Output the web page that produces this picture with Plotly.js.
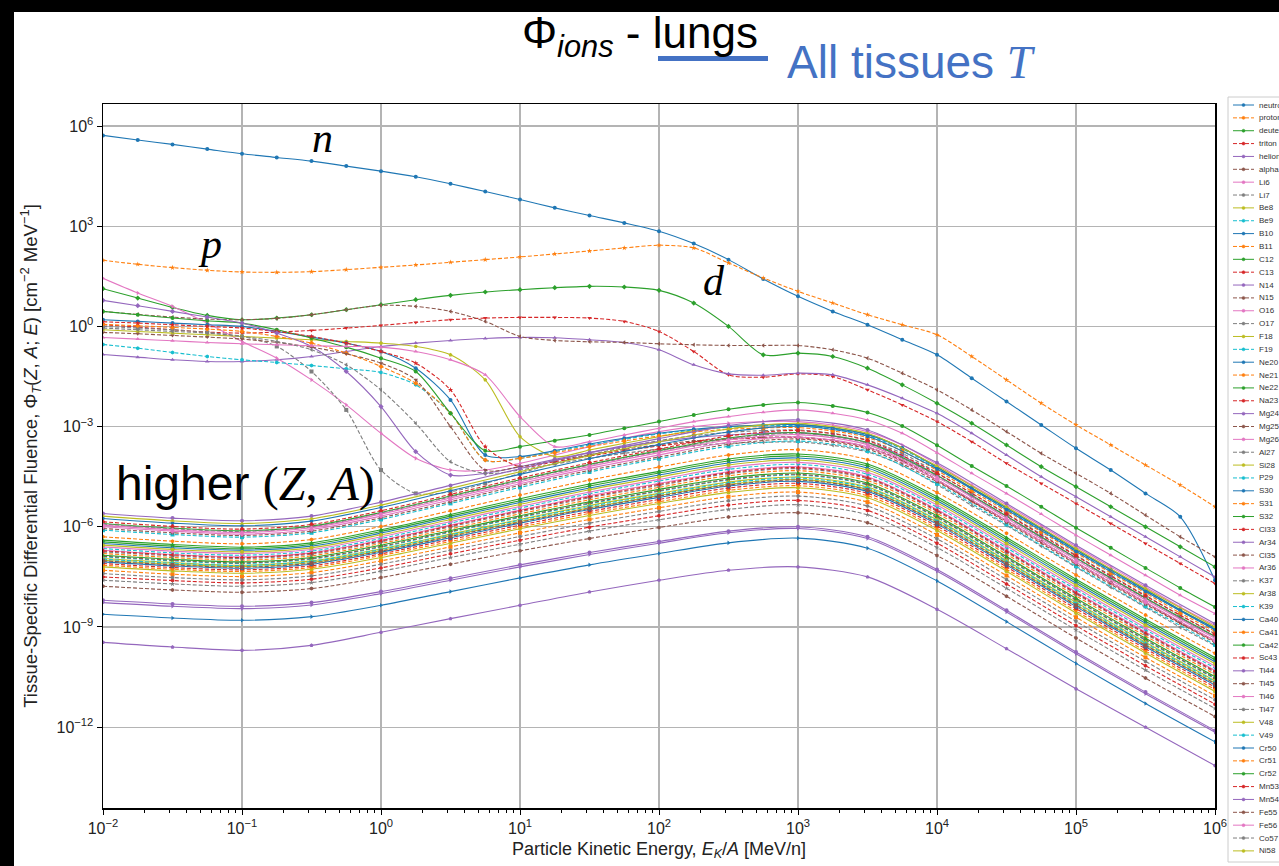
<!DOCTYPE html>
<html><head><meta charset="utf-8">
<script src="https://cdn.plot.ly/plotly-3.0.1.min.js"></script>
<style>
html,body{margin:0;padding:0;background:#000;width:1279px;height:866px;overflow:hidden;}
#chart{position:absolute;left:14px;top:12px;width:1265px;height:854px;background:#fff;}
</style></head><body><div id="chart"></div>
<script>
// ---- energy grids: log10(E_K/A [MeV/n]) ----
const logE_fine = [-2,-1.75,-1.5,-1.25,-1,-0.75,-0.5,-0.25,0,0.25,0.5,0.75,1,1.25,1.5,1.75,2,2.25,2.5,2.75,3,3.25,3.5,3.75,4,4.25,4.5,4.75,5,5.25,5.5,5.75,6];
const logE_coarse = [-2,-1.5,-1,-0.5,0,0.5,1,1.5,2,2.5,3,3.5,4,4.5,5,5.5,6];

// ---- species names (legend order) ----
const SPECIES = ['neutron','proton','deuteron','triton','helion','alpha','Li6','Li7','Be8','Be9','B10','B11','C12','C13','N14','N15','O16','O17','F18','F19','Ne20','Ne21','Ne22','Na23','Mg24','Mg25','Mg26','Al27','Si28','P29','S30','S31','S32','Cl33','Ar34','Cl35','Ar36','K37','Ar38','K39','Ca40','Ca41','Ca42','Sc43','Ti44','Ti45','Ti46','Ti47','V48','V49','Cr50','Cr51','Cr52','Mn53','Mn54','Fe55','Fe56','Co57','Ni58'];

// ---- log10 fluence values, fine grid ----
const phi_neutron  = [5.72,5.58,5.45,5.31,5.17,5.06,4.95,4.8,4.65,4.48,4.27,4.04,3.8,3.55,3.32,3.1,2.85,2.48,2.0,1.42,0.9,0.45,0.05,-0.4,-0.85,-1.55,-2.25,-2.95,-3.65,-4.3,-5.0,-5.7,-7.6];
const phi_proton   = [1.98,1.86,1.76,1.68,1.63,1.62,1.64,1.7,1.77,1.84,1.92,2.0,2.08,2.17,2.26,2.35,2.43,2.35,1.9,1.45,1.05,0.7,0.35,0.05,-0.25,-0.9,-1.6,-2.3,-2.95,-3.55,-4.15,-4.75,-5.4];
const phi_deuteron = [1.13,0.85,0.57,0.33,0.2,0.25,0.35,0.5,0.65,0.8,0.93,1.03,1.1,1.16,1.2,1.18,1.08,0.7,0.0,-0.85,-0.8,-0.9,-1.25,-1.75,-2.3,-2.9,-3.55,-4.2,-4.8,-5.4,-6.0,-6.6,-7.2];
const phi_triton   = [0.05,-0.02,-0.1,-0.17,-0.2,-0.17,-0.12,-0.05,0.03,0.12,0.2,0.25,0.27,0.27,0.25,0.15,-0.15,-0.75,-1.45,-1.52,-1.42,-1.5,-1.9,-2.35,-2.85,-3.45,-4.1,-4.7,-5.3,-5.9,-6.5,-7.1,-7.7];
const phi_helion   = [-0.84,-0.92,-1.0,-1.05,-1.05,-1.0,-0.9,-0.75,-0.6,-0.5,-0.42,-0.36,-0.33,-0.34,-0.4,-0.48,-0.7,-1.15,-1.42,-1.46,-1.4,-1.45,-1.75,-2.15,-2.6,-3.2,-3.85,-4.5,-5.1,-5.7,-6.3,-6.9,-7.5];
const phi_alpha    = [0.45,0.36,0.28,0.22,0.2,0.24,0.35,0.5,0.63,0.6,0.45,0.15,-0.3,-0.42,-0.46,-0.48,-0.52,-0.55,-0.57,-0.57,-0.57,-0.7,-0.95,-1.4,-1.9,-2.5,-3.15,-3.8,-4.4,-5.0,-5.65,-6.3,-6.9];
const phi_Li6      = [1.44,1.0,0.6,0.1,-0.45,-0.95,-1.6,-2.35,-3.2,-3.95,-4.3,-4.3,-4.1,-3.85,-3.6,-3.35,-3.15,-3.0,-2.9,-2.85,-2.85,-2.95,-3.15,-3.55,-4.13,-4.75,-5.35,-5.97,-6.6,-7.2,-7.8,-8.4,-8.95];
const phi_Li7      = [0.0,-0.05,-0.1,-0.18,-0.3,-0.6,-1.35,-2.5,-4.3,-5.0,-4.95,-4.7,-4.4,-4.1,-3.85,-3.62,-3.42,-3.27,-3.17,-3.12,-3.1,-3.2,-3.4,-3.8,-4.38,-5.0,-5.6,-6.22,-6.85,-7.45,-8.05,-8.65,-9.2];
const phi_Be8      = [-0.1,-0.15,-0.2,-0.25,-0.3,-0.35,-0.4,-0.45,-0.5,-0.6,-0.85,-1.6,-3.3,-3.9,-3.7,-3.5,-3.3,-3.12,-3.0,-2.95,-2.93,-3.03,-3.23,-3.63,-4.21,-4.83,-5.43,-6.05,-6.68,-7.28,-7.88,-8.48,-9.03];
const phi_Be9      = [-0.54,-0.65,-0.78,-0.9,-1.0,-1.08,-1.17,-1.27,-1.38,-1.75,-2.6,-4.0,-3.95,-3.75,-3.55,-3.38,-3.22,-3.1,-3.02,-2.98,-2.97,-3.07,-3.27,-3.67,-4.25,-4.87,-5.47,-6.09,-6.72,-7.32,-7.92,-8.52,-9.07];
const phi_B10      = [0.2,0.15,0.1,0.05,0.0,-0.15,-0.32,-0.5,-0.75,-1.25,-2.2,-3.85,-3.9,-3.72,-3.52,-3.35,-3.2,-3.08,-3.0,-2.95,-2.94,-3.04,-3.24,-3.64,-4.22,-4.84,-5.44,-6.06,-6.69,-7.29,-7.89,-8.49,-9.04];
const phi_B11      = [0.06,0.02,-0.03,-0.08,-0.15,-0.3,-0.5,-0.8,-1.2,-1.7,-2.6,-4.0,-3.95,-3.78,-3.6,-3.43,-3.28,-3.16,-3.08,-3.04,-3.03,-3.13,-3.33,-3.73,-4.31,-4.93,-5.53,-6.15,-6.78,-7.38,-7.98,-8.58,-9.13];
const phi_C12      = [0.45,0.35,0.25,0.17,0.1,-0.1,-0.35,-0.62,-0.95,-1.35,-2.6,-3.72,-3.6,-3.42,-3.25,-3.05,-2.85,-2.65,-2.48,-2.35,-2.28,-2.38,-2.58,-2.98,-3.56,-4.18,-4.78,-5.4,-6.03,-6.63,-7.23,-7.83,-8.4];
const phi_C13      = [0.14,0.1,0.05,0.0,-0.05,-0.15,-0.3,-0.5,-0.75,-1.1,-1.9,-3.6,-4.2,-4.05,-3.88,-3.72,-3.58,-3.46,-3.38,-3.34,-3.33,-3.43,-3.63,-4.03,-4.61,-5.23,-5.83,-6.45,-7.08,-7.68,-8.28,-8.88,-9.43];
const phi_N14      = [0.78,0.62,0.45,0.28,0.1,-0.2,-0.6,-1.35,-2.4,-3.75,-4.45,-4.4,-4.2,-3.98,-3.78,-3.6,-3.45,-3.33,-3.25,-3.2,-3.18,-3.28,-3.48,-3.88,-4.46,-5.08,-5.68,-6.3,-6.93,-7.53,-8.13,-8.73,-9.28];
const phi_N15      = [-0.18,-0.22,-0.27,-0.32,-0.38,-0.48,-0.62,-0.82,-1.1,-1.6,-3.0,-4.3,-4.2,-4.02,-3.84,-3.68,-3.54,-3.43,-3.36,-3.32,-3.31,-3.41,-3.61,-4.01,-4.59,-5.21,-5.81,-6.43,-7.06,-7.66,-8.26,-8.86,-9.41];
const phi_O16      = [-0.33,-0.38,-0.43,-0.48,-0.52,-0.55,-0.58,-0.6,-0.62,-0.75,-1.0,-1.45,-2.7,-3.6,-3.45,-3.25,-3.05,-2.85,-2.7,-2.57,-2.5,-2.6,-2.8,-3.2,-3.78,-4.4,-5.0,-5.62,-6.25,-6.85,-7.45,-8.05,-8.6];
const phi_O17      = [-0.05,-0.1,-0.15,-0.2,-0.3,-0.45,-0.7,-1.15,-1.9,-2.9,-4.05,-4.4,-4.3,-4.12,-3.95,-3.8,-3.67,-3.57,-3.5,-3.47,-3.46,-3.56,-3.76,-4.16,-4.74,-5.36,-5.96,-6.58,-7.21,-7.81,-8.41,-9.01,-9.56];

// ---- log10 fluence values, coarse grid ----
const phi_F18  = [-7.0,-7.12,-7.19,-7.07,-6.71,-6.27,-5.84,-5.43,-5.06,-4.73,-4.58,-4.88,-5.86,-7.08,-8.33,-9.53,-10.68];
const phi_F19  = [-6.1,-6.23,-6.31,-6.18,-5.78,-5.3,-4.82,-4.36,-3.96,-3.59,-3.43,-3.73,-4.71,-5.93,-7.18,-8.38,-9.53];
const phi_Ne20 = [-5.75,-5.89,-5.97,-5.83,-5.42,-4.92,-4.43,-3.96,-3.54,-3.16,-2.99,-3.29,-4.27,-5.49,-6.74,-7.94,-9.09];
const phi_Ne21 = [-6.3,-6.43,-6.51,-6.38,-5.99,-5.52,-5.05,-4.6,-4.21,-3.85,-3.69,-3.99,-4.97,-6.19,-7.44,-8.64,-9.79];
const phi_Ne22 = [-5.9,-6.04,-6.12,-5.98,-5.57,-5.08,-4.59,-4.13,-3.72,-3.34,-3.18,-3.48,-4.46,-5.68,-6.93,-8.13,-9.28];
const phi_Na23 = [-5.85,-5.99,-6.07,-5.93,-5.52,-5.03,-4.54,-4.08,-3.67,-3.28,-3.12,-3.42,-4.4,-5.62,-6.87,-8.07,-9.22];
const phi_Mg24 = [-5.6,-5.74,-5.82,-5.68,-5.26,-4.76,-4.26,-3.78,-3.36,-2.97,-2.8,-3.1,-4.08,-5.3,-6.55,-7.75,-8.9];
const phi_Mg25 = [-6.05,-6.18,-6.26,-6.13,-5.73,-5.25,-4.76,-4.31,-3.91,-3.53,-3.37,-3.67,-4.65,-5.87,-7.12,-8.32,-9.47];
const phi_Mg26 = [-6.0,-6.13,-6.22,-6.08,-5.68,-5.19,-4.71,-4.25,-3.85,-3.47,-3.31,-3.61,-4.59,-5.81,-7.06,-8.26,-9.41];
const phi_Al27 = [-5.92,-6.06,-6.14,-6.0,-5.59,-5.1,-4.61,-4.15,-3.74,-3.36,-3.2,-3.5,-4.48,-5.7,-6.95,-8.15,-9.3];
const phi_Si28 = [-5.68,-5.82,-5.9,-5.76,-5.35,-4.85,-4.35,-3.87,-3.46,-3.07,-2.9,-3.2,-4.18,-5.4,-6.65,-7.85,-9.0];
const phi_P29  = [-6.9,-7.02,-7.1,-6.97,-6.61,-6.16,-5.72,-5.31,-4.94,-4.6,-4.45,-4.75,-5.73,-6.95,-8.2,-9.4,-10.55];
const phi_S30  = [-8.62,-8.73,-8.8,-8.69,-8.35,-7.94,-7.53,-7.14,-6.8,-6.48,-6.34,-6.64,-7.62,-8.84,-10.09,-11.29,-12.44];
const phi_S31  = [-7.3,-7.42,-7.49,-7.37,-7.02,-6.6,-6.18,-5.78,-5.43,-5.1,-4.96,-5.26,-6.24,-7.46,-8.71,-9.91,-11.06];
const phi_S32  = [-6.45,-6.58,-6.66,-6.53,-6.14,-5.68,-5.22,-4.78,-4.39,-4.03,-3.88,-4.18,-5.16,-6.38,-7.63,-8.83,-9.98];
const phi_Cl33 = [-7.5,-7.61,-7.68,-7.57,-7.23,-6.81,-6.4,-6.01,-5.67,-5.35,-5.21,-5.51,-6.49,-7.71,-8.96,-10.16,-11.31];
const phi_Ar34 = [-8.2,-8.31,-8.38,-8.27,-7.94,-7.54,-7.14,-6.77,-6.44,-6.13,-6.0,-6.3,-7.28,-8.5,-9.75,-10.95,-12.1];
const phi_Cl35 = [-6.88,-7.0,-7.08,-6.95,-6.59,-6.14,-5.7,-5.29,-4.92,-4.58,-4.43,-4.73,-5.71,-6.93,-8.18,-9.38,-10.53];
const phi_Ar36 = [-6.7,-6.83,-6.9,-6.78,-6.4,-5.95,-5.5,-5.07,-4.7,-4.35,-4.2,-4.5,-5.48,-6.7,-7.95,-9.15,-10.3];
const phi_K37  = [-7.6,-7.71,-7.78,-7.67,-7.33,-6.92,-6.52,-6.13,-5.79,-5.48,-5.34,-5.64,-6.62,-7.84,-9.09,-10.29,-11.44];
const phi_Ar38 = [-6.95,-7.07,-7.15,-7.02,-6.66,-6.22,-5.78,-5.36,-5.0,-4.66,-4.51,-4.81,-5.79,-7.01,-8.26,-9.46,-10.61];
const phi_K39  = [-6.65,-6.78,-6.85,-6.73,-6.35,-5.89,-5.44,-5.01,-4.63,-4.28,-4.13,-4.43,-5.41,-6.63,-7.88,-9.08,-10.23];
const phi_Ca40 = [-6.5,-6.63,-6.7,-6.58,-6.19,-5.73,-5.27,-4.84,-4.45,-4.09,-3.94,-4.24,-5.22,-6.44,-7.69,-8.89,-10.04];
const phi_Ca41 = [-6.8,-6.92,-7.0,-6.87,-6.5,-6.06,-5.61,-5.19,-4.82,-4.47,-4.32,-4.62,-5.6,-6.82,-8.07,-9.27,-10.42];
const phi_Ca42 = [-6.85,-6.97,-7.05,-6.92,-6.55,-6.11,-5.67,-5.25,-4.88,-4.54,-4.39,-4.69,-5.67,-6.89,-8.14,-9.34,-10.49];
const phi_Sc43 = [-7.1,-7.22,-7.29,-7.17,-6.81,-6.38,-5.95,-5.54,-5.18,-4.84,-4.7,-5.0,-5.98,-7.2,-8.45,-9.65,-10.8];
const phi_Ti44 = [-9.46,-9.6,-9.7,-9.55,-9.16,-8.75,-8.35,-7.95,-7.6,-7.3,-7.2,-7.5,-8.47,-9.65,-10.85,-12.0,-13.15];
const phi_Ti45 = [-7.78,-7.89,-7.96,-7.85,-7.52,-7.12,-6.72,-6.35,-6.02,-5.71,-5.58,-5.88,-6.86,-8.08,-9.33,-10.53,-11.68];
const phi_Ti46 = [-6.6,-6.73,-6.8,-6.68,-6.3,-5.84,-5.39,-4.96,-4.58,-4.22,-4.07,-4.37,-5.35,-6.57,-7.82,-9.02,-10.17];
const phi_Ti47 = [-6.75,-6.87,-6.95,-6.82,-6.45,-6.0,-5.55,-5.13,-4.76,-4.41,-4.26,-4.56,-5.54,-6.76,-8.01,-9.21,-10.36];
const phi_V48  = [-7.2,-7.32,-7.39,-7.27,-6.92,-6.49,-6.06,-5.66,-5.3,-4.97,-4.83,-5.13,-6.11,-7.33,-8.58,-9.78,-10.93];
const phi_V49  = [-6.97,-7.09,-7.16,-7.04,-6.68,-6.24,-5.8,-5.39,-5.03,-4.69,-4.54,-4.84,-5.82,-7.04,-8.29,-9.49,-10.64];
const phi_Cr50 = [-7.05,-7.17,-7.24,-7.12,-6.76,-6.33,-5.89,-5.48,-5.12,-4.78,-4.64,-4.94,-5.92,-7.14,-8.39,-9.59,-10.74];
const phi_Cr51 = [-7.15,-7.27,-7.34,-7.22,-6.86,-6.44,-6.01,-5.6,-5.25,-4.91,-4.77,-5.07,-6.05,-7.27,-8.52,-9.72,-10.87];
const phi_Cr52 = [-6.4,-6.53,-6.61,-6.48,-6.09,-5.63,-5.16,-4.72,-4.34,-3.97,-3.82,-4.12,-5.1,-6.32,-7.57,-8.77,-9.92];
const phi_Mn53 = [-6.72,-6.84,-6.92,-6.79,-6.42,-5.97,-5.52,-5.1,-4.73,-4.38,-4.23,-4.53,-5.51,-6.73,-7.98,-9.18,-10.33];
const phi_Mn54 = [-8.27,-8.38,-8.45,-8.34,-8.0,-7.6,-7.2,-6.83,-6.49,-6.18,-6.05,-6.35,-7.33,-8.55,-9.8,-11.0,-12.15];
const phi_Fe55 = [-7.02,-7.14,-7.21,-7.09,-6.73,-6.29,-5.86,-5.45,-5.08,-4.75,-4.6,-4.9,-5.88,-7.1,-8.35,-9.55,-10.7];
const phi_Fe56 = [-5.95,-6.09,-6.17,-6.03,-5.62,-5.14,-4.65,-4.19,-3.78,-3.4,-3.24,-3.54,-4.52,-5.74,-6.99,-8.19,-9.34];
const phi_Co57 = [-7.4,-7.52,-7.59,-7.47,-7.12,-6.7,-6.29,-5.89,-5.54,-5.22,-5.08,-5.38,-6.36,-7.58,-8.83,-10.03,-11.18];
const phi_Ni58 = [-6.55,-6.68,-6.75,-6.63,-6.24,-5.78,-5.33,-4.89,-4.51,-4.15,-4.0,-4.3,-5.28,-6.5,-7.75,-8.95,-10.1];

// ---- axis tick labels ----
const xTickVals = [1e-2,1e-1,1e0,1e1,1e2,1e3,1e4,1e5,1e6];
const xTickText = ['10<sup>\u22122</sup>','10<sup>\u22121</sup>','10<sup>0</sup>','10<sup>1</sup>','10<sup>2</sup>','10<sup>3</sup>','10<sup>4</sup>','10<sup>5</sup>','10<sup>6</sup>'];
const yTickVals = [1e-12,1e-9,1e-6,1e-3,1e0,1e3,1e6];
const yTickText = ['10<sup>\u221212</sup>','10<sup>\u22129</sup>','10<sup>\u22126</sup>','10<sup>\u22123</sup>','10<sup>0</sup>','10<sup>3</sup>','10<sup>6</sup>'];

// ---- assemble ----
const SERIES_VALUES = [phi_neutron,phi_proton,phi_deuteron,phi_triton,phi_helion,phi_alpha,phi_Li6,phi_Li7,phi_Be8,phi_Be9,phi_B10,phi_B11,phi_C12,phi_C13,phi_N14,phi_N15,phi_O16,phi_O17,
  phi_F18,phi_F19,phi_Ne20,phi_Ne21,phi_Ne22,phi_Na23,phi_Mg24,phi_Mg25,phi_Mg26,phi_Al27,phi_Si28,phi_P29,phi_S30,phi_S31,phi_S32,phi_Cl33,phi_Ar34,phi_Cl35,phi_Ar36,phi_K37,phi_Ar38,phi_K39,
  phi_Ca40,phi_Ca41,phi_Ca42,phi_Sc43,phi_Ti44,phi_Ti45,phi_Ti46,phi_Ti47,phi_V48,phi_V49,phi_Cr50,phi_Cr51,phi_Cr52,phi_Mn53,phi_Mn54,phi_Fe55,phi_Fe56,phi_Co57,phi_Ni58];

const COLORS = ['#1f77b4','#ff7f0e','#2ca02c','#d62728','#9467bd','#8c564b','#e377c2','#7f7f7f','#bcbd22','#17becf'];
const SYMBOLS = ['circle','star','diamond','triangle-down','triangle-up','triangle-left','triangle-right','square','pentagon','hexagon','circle','diamond'];

const traces = SERIES_VALUES.map((vals,i)=>{
  const grid = vals.length === logE_fine.length ? logE_fine : logE_coarse;
  return {
    type:'scatter', mode:'lines+markers', name:SPECIES[i],
    x: grid.map(v=>Math.pow(10,v)), y: vals.map(v=>Math.pow(10,v)),
    line:{color:COLORS[i%10], width:1.1, dash:(i%2 ? '4px,2px' : 'solid'), shape:'spline', smoothing:0.8},
    marker:{symbol:SYMBOLS[i%SYMBOLS.length], size:4, color:COLORS[i%10]},
    showlegend:false, hoverinfo:'skip'
  };
});

// ---- geometry helpers (page pixel -> paper) ----
const OFFX=14, OFFY=12, ML=89, MT=92, PW=1112, PH=704;
const px = X => (X - OFFX - ML)/PW;
const py = Y => (MT + PH - (Y - OFFY))/PH;

const minorX = [];
for (let d=-2; d<6; d++) for (let m=2; m<10; m++) minorX.push(m*Math.pow(10,d));

const shapes = [];
const annotations = [];

// legend box
shapes.push({type:'rect', xref:'paper', yref:'paper', x0:px(1228), x1:px(1300), y0:py(862), y1:py(97),
  line:{color:'#cccccc', width:1}, fillcolor:'rgba(255,255,255,0.9)', layer:'above'});
SPECIES.forEach((name,i)=>{
  const Y = 105 + 12.86*i;
  shapes.push({type:'line', xref:'paper', yref:'paper', x0:px(1233), x1:px(1254), y0:py(Y), y1:py(Y),
    line:{color:COLORS[i%10], width:1, dash:(i%2 ? '4px,2px' : 'solid')}, layer:'above'});
  shapes.push({type:'circle', xref:'paper', yref:'paper', x0:px(1242), x1:px(1245), y0:py(Y+1.5), y1:py(Y-1.5),
    line:{color:COLORS[i%10], width:0.5}, fillcolor:COLORS[i%10], layer:'above'});
  annotations.push({xref:'paper', yref:'paper', x:px(1257), y:py(Y), xanchor:'left', yanchor:'middle',
    text:name, showarrow:false, font:{family:'Liberation Sans, Arial, sans-serif', size:8, color:'#333'}});
});

// slide title & labels
annotations.push({xref:'paper', yref:'paper', x:px(640), y:py(36), xanchor:'center', yanchor:'middle', showarrow:false,
  text:'\u03A6<sub><i>ions</i></sub> - lungs', font:{family:'Liberation Sans, Arial, sans-serif', size:44, color:'#000'}});
shapes.push({type:'rect', xref:'paper', yref:'paper', x0:px(658), x1:px(768), y0:py(61), y1:py(56),
  line:{width:0}, fillcolor:'#4472C4', layer:'above'});
annotations.push({xref:'paper', yref:'paper', x:px(785), y:py(62), xanchor:'left', yanchor:'middle', showarrow:false,
  text:'All tissues <span style="font-family:Liberation Serif"><i>T</i></span>', font:{family:'Liberation Sans, Arial, sans-serif', size:46, color:'#4472C4'}});

annotations.push({xref:'paper', yref:'paper', x:px(322), y:py(138), xanchor:'center', yanchor:'middle', showarrow:false,
  text:'<i>n</i>', font:{family:'Liberation Serif, serif', size:42, color:'#000'}});
annotations.push({xref:'paper', yref:'paper', x:px(210), y:py(244), xanchor:'center', yanchor:'middle', showarrow:false,
  text:'<i>p</i>', font:{family:'Liberation Serif, serif', size:42, color:'#000'}});
annotations.push({xref:'paper', yref:'paper', x:px(714), y:py(281), xanchor:'center', yanchor:'middle', showarrow:false,
  text:'<i>d</i>', font:{family:'Liberation Serif, serif', size:42, color:'#000'}});
annotations.push({xref:'paper', yref:'paper', x:px(114), y:py(484), xanchor:'left', yanchor:'middle', showarrow:false,
  text:'higher <span style="font-family:Liberation Serif">(<i>Z</i>, <i>A</i>)</span>', font:{family:'Liberation Sans, Arial, sans-serif', size:48, color:'#000'}});

const layout = {
  width:1265, height:854,
  margin:{l:ML, r:1265-ML-PW, t:MT, b:854-MT-PH},
  paper_bgcolor:'#fff', plot_bgcolor:'#fff',
  showlegend:false,
  font:{family:'Liberation Sans, Arial, sans-serif', color:'#222'},
  xaxis:{type:'log', range:[-2,6], tickmode:'array', tickvals:xTickVals, ticktext:xTickText,
    showgrid:true, gridcolor:'#b4b4b4', gridwidth:1.2, ticks:'outside', ticklen:5, tickcolor:'#000', tickwidth:1,
    showline:true, linecolor:'#000', linewidth:1.5, mirror:true, zeroline:false,
    tickfont:{size:16, color:'#222'},
    minor:{tickmode:'array', tickvals:minorX, ticks:'outside', ticklen:3, tickcolor:'#000', showgrid:false},
    title:{text:'Particle Kinetic Energy, <i>E</i><sub><i>K</i></sub>/<i>A</i> [MeV/n]', font:{size:18, color:'#222'}, standoff:6}},
  yaxis:{type:'log', range:[-14.42,6.66], tickmode:'array', tickvals:yTickVals, ticktext:yTickText,
    showgrid:true, gridcolor:'#b4b4b4', gridwidth:1.2, ticks:'outside', ticklen:5, tickcolor:'#000', tickwidth:1,
    showline:true, linecolor:'#000', linewidth:1.5, mirror:true, zeroline:false,
    tickfont:{size:16, color:'#222'},
    title:{text:'Tissue-Specific Differential Fluence, \u03A6<sub><i>T</i></sub>(<i>Z</i>, <i>A</i>; <i>E</i>) [cm<sup>\u22122</sup> MeV<sup>\u22121</sup>]', font:{size:18.5, color:'#222'}, standoff:14}},
  shapes:shapes,
  annotations:annotations
};

Plotly.newPlot('chart', traces, layout, {staticPlot:true, displayModeBar:false});
</script>
</body></html>
